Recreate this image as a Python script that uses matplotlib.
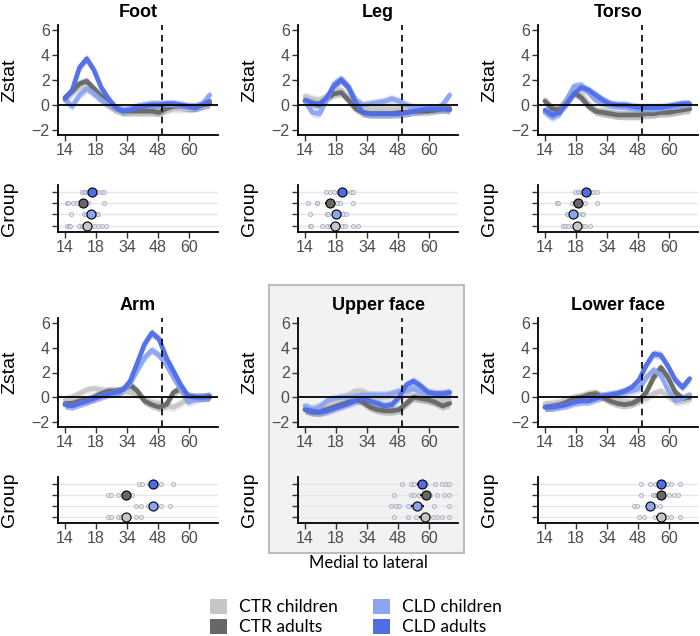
import numpy as np
import matplotlib.pyplot as plt
from matplotlib.patches import Rectangle, Patch

# position along the medial-to-lateral axis (sample index) and tick labels
pos = [0, 3.5, 7, 10.5, 14, 17.5, 21, 24.5, 28, 31.5, 35, 38.5, 42, 45.5, 49, 52.5, 56, 59.5, 63, 66.5, 70]
tick_pos = [0, 15, 30, 45, 60]
tick_labels = ['14', '18', '34', '48', '60']
boundary = 47

groups = ['CTR children', 'CTR adults', 'CLD children', 'CLD adults']
colors = ['#c6c6c6', '#676767', '#8ba5ef', '#4f6de8']
group_rows = [1, 3, 2, 4]

# Zstat profiles, one list per group
foot_ctr_children = [0.5, 0.9, 1.4, 1.5, 1.1, 0.5, 0.0, -0.4, -0.6, -0.6, -0.6, -0.6, -0.6, -0.5, -0.4, -0.3, -0.3, -0.3, -0.2, -0.1, 0.1]
foot_ctr_adults = [0.6, 1.1, 1.7, 1.9, 1.3, 0.7, 0.1, -0.3, -0.5, -0.5, -0.5, -0.5, -0.5, -0.6, -0.3, -0.1, -0.1, -0.2, -0.2, 0.0, 0.1]
foot_cld_children = [0.4, -0.1, 0.8, 1.3, 0.9, 0.4, 0.0, -0.3, -0.4, -0.3, -0.1, 0.0, 0.1, 0.1, 0.0, 0.0, -0.1, -0.2, -0.1, 0.1, 0.8]
foot_cld_adults = [0.5, 1.2, 3.0, 3.7, 2.8, 1.4, 0.5, -0.2, -0.5, -0.4, -0.2, -0.1, 0.0, 0.0, 0.1, 0.1, 0.0, -0.1, -0.2, 0.0, 0.3]

leg_ctr_children = [0.7, 0.5, 0.4, 0.7, 1.1, 1.2, 0.6, -0.1, -0.3, -0.3, -0.3, -0.3, -0.3, -0.3, -0.3, -0.3, -0.3, -0.3, -0.3, -0.2, -0.2]
leg_ctr_adults = [0.3, 0.1, 0.1, 0.5, 0.9, 1.0, 0.4, -0.3, -0.6, -0.7, -0.7, -0.7, -0.7, -0.6, -0.6, -0.5, -0.5, -0.5, -0.4, -0.3, -0.3]
leg_cld_children = [0.3, -0.6, -0.7, 0.4, 1.7, 2.1, 1.5, 0.4, 0.0, 0.1, 0.2, 0.3, 0.5, 0.3, 0.0, -0.2, -0.2, -0.3, -0.3, 0.0, 0.8]
leg_cld_adults = [0.4, 0.2, 0.0, 0.6, 1.5, 2.0, 1.4, 0.2, -0.6, -0.7, -0.7, -0.7, -0.7, -0.7, -0.6, -0.5, -0.4, -0.3, -0.3, -0.3, -0.4]

torso_ctr_children = [0.4, -0.2, -0.3, 0.5, 1.4, 0.9, 0.1, -0.4, -0.6, -0.7, -0.8, -0.9, -0.9, -0.9, -0.8, -0.7, -0.6, -0.6, -0.5, -0.4, -0.4]
torso_ctr_adults = [0.3, -0.3, -0.4, 0.3, 1.0, 0.6, -0.1, -0.5, -0.6, -0.7, -0.8, -0.8, -0.8, -0.8, -0.7, -0.7, -0.6, -0.6, -0.5, -0.4, -0.3]
torso_cld_children = [-0.6, -1.0, -0.7, 0.4, 1.5, 1.6, 1.0, 0.4, 0.1, -0.1, -0.1, -0.2, -0.3, -0.4, -0.4, -0.4, -0.3, -0.2, -0.2, -0.1, 0.0]
torso_cld_adults = [-0.4, -0.8, -0.6, 0.1, 0.9, 1.4, 1.2, 0.8, 0.4, 0.1, 0.0, 0.0, -0.1, -0.2, -0.2, -0.2, -0.2, -0.1, 0.0, 0.1, 0.1]

arm_ctr_children = [-0.2, 0.0, 0.3, 0.6, 0.7, 0.6, 0.5, 0.5, 0.5, 0.4, 0.2, -0.2, -0.4, -0.5, -0.7, -0.8, -0.5, -0.1, 0.0, 0.0, 0.0]
arm_ctr_adults = [-0.5, -0.5, -0.3, -0.2, 0.0, 0.3, 0.5, 0.5, 0.6, 1.0, 0.5, -0.3, -0.6, -0.8, -0.6, 0.4, 0.7, 0.1, 0.0, 0.0, 0.0]
arm_cld_children = [-0.6, -0.7, -0.5, -0.3, -0.1, 0.1, 0.3, 0.4, 0.6, 1.1, 2.2, 3.2, 3.8, 3.4, 2.6, 1.6, 0.6, -0.4, -0.2, 0.0, 0.1]
arm_cld_adults = [-0.6, -0.7, -0.5, -0.3, -0.1, 0.1, 0.3, 0.4, 0.6, 1.3, 2.8, 4.3, 5.2, 4.7, 3.2, 2.1, 1.0, 0.1, 0.0, 0.0, 0.1]

upper_ctr_children = [-0.8, -0.9, -0.7, -0.5, -0.3, 0.0, 0.2, 0.5, 0.5, 0.1, 0.0, 0.0, 0.1, 0.3, 0.2, 0.0, -0.1, -0.2, -0.3, -0.3, -0.3]
upper_ctr_adults = [-1.0, -1.2, -1.2, -1.0, -0.8, -0.6, -0.4, -0.1, -0.4, -0.8, -1.0, -1.1, -1.1, -1.0, -0.5, 0.0, -0.1, -0.2, -0.4, -0.7, -0.5]
upper_cld_children = [-0.7, -1.0, -0.8, -0.3, -0.1, 0.0, 0.0, 0.1, 0.2, 0.2, 0.2, 0.2, 0.3, 0.5, 0.5, 0.7, 0.4, 0.2, 0.1, 0.1, 0.1]
upper_cld_adults = [-1.0, -1.1, -1.2, -1.1, -0.9, -0.7, -0.5, -0.3, -0.1, -0.3, -0.5, -0.7, -0.6, 0.0, 1.0, 1.3, 0.9, 0.4, 0.3, 0.3, 0.4]

lower_ctr_children = [-0.5, -0.5, -0.4, -0.2, 0.0, 0.1, 0.3, 0.3, 0.1, -0.1, -0.2, -0.3, -0.4, -0.3, -0.1, 0.3, 0.5, 0.1, -0.3, -0.3, -0.2]
lower_ctr_adults = [-0.8, -0.7, -0.6, -0.4, -0.1, 0.0, 0.2, 0.3, 0.0, -0.3, -0.5, -0.6, -0.5, -0.2, 0.4, 1.6, 2.4, 1.6, 0.4, -0.1, 0.0]
lower_cld_children = [-0.8, -0.8, -0.7, -0.6, -0.4, -0.3, -0.3, -0.1, 0.1, 0.2, 0.3, 0.4, 0.5, 0.7, 1.6, 2.2, 1.8, 0.6, -0.3, -0.1, 0.2]
lower_cld_adults = [-0.8, -0.8, -0.7, -0.6, -0.4, -0.3, -0.3, -0.1, 0.1, 0.2, 0.3, 0.5, 0.8, 1.4, 2.6, 3.5, 3.4, 2.5, 1.4, 0.8, 1.5]

# peak locations per participant (group order as above) and group means
foot_peaks = [[1, 2, 2.5, 7, 8, 9, 10, 11, 12, 14, 16, 18, 20],
              [1, 1.5, 4, 6, 8, 9, 10, 11, 19],
              [3, 9, 10, 11, 12, 13, 15, 15.5, 16],
              [8, 9, 10, 11, 12, 12, 13, 14, 15, 16, 18, 19]]
foot_means = [10.5, 8.9, 12.4, 12.9]
leg_peaks = [[2.4, 2.7, 8, 10.5, 12, 16, 17.7, 19.4, 23.4, 25.8],
             [1.6, 5.6, 6, 10.5, 13.7, 15.3, 17, 23],
             [2.4, 10.5, 11.3, 15.3, 17, 18.5, 20],
             [10, 12, 14, 16, 17, 18, 19, 20, 22, 23]]
leg_means = [14.5, 12.1, 15.0, 17.7]
torso_peaks = [[8.9, 9.7, 11.3, 13, 14.5, 16, 17.7, 19.4, 21.8],
               [6, 6.5, 13, 14.5, 17, 19.4, 25],
               [10.5, 11.3, 13, 14.5, 16, 17.7, 18.5],
               [14.5, 16, 17, 18, 19, 20, 21, 22, 23, 25]]
torso_means = [15.3, 16.1, 13.4, 19.8]
arm_peaks = [[21, 22.2, 25.5, 27, 31, 34.4, 36.7],
             [21, 22, 25.5, 27.8, 31, 32.2],
             [34.4, 36.7, 40, 41.8, 44.4, 46.2, 50.7],
             [35.6, 37.3, 40.4, 41.8, 44.4, 46.2, 52.2]]
arm_means = [29.6, 29.3, 42.7, 42.7]
upper_peaks = [[43.2, 49.9, 53.9, 56.1, 59.5, 61.7, 63.9, 66.1, 69.5],
               [43.2, 51.2, 52.8, 55, 57.2, 60.6, 63.9, 67.3, 69.5],
               [41.6, 43.9, 45.4, 49.9, 51.7, 56.1, 62.4, 69.5],
               [46.8, 51.2, 52.8, 55, 58.4, 62.8, 66.1, 68.4, 69.5]]
upper_means = [57.9, 58.4, 54.3, 56.6]
lower_peaks = [[45.4, 47.7, 53.2, 56.6, 58.8, 61.1, 65.5],
               [46.5, 52.1, 53.2, 54.4, 60, 62.2, 64.4],
               [43.2, 44.3, 49.9, 53.2, 55.5],
               [46.5, 51, 53.2, 55.5, 58.8, 61.1, 65.5]]
lower_means = [56.2, 56.2, 51.0, 56.2]

panels = [
    ('Foot', [foot_ctr_children, foot_ctr_adults, foot_cld_children, foot_cld_adults], foot_peaks, foot_means),
    ('Leg', [leg_ctr_children, leg_ctr_adults, leg_cld_children, leg_cld_adults], leg_peaks, leg_means),
    ('Torso', [torso_ctr_children, torso_ctr_adults, torso_cld_children, torso_cld_adults], torso_peaks, torso_means),
    ('Arm', [arm_ctr_children, arm_ctr_adults, arm_cld_children, arm_cld_adults], arm_peaks, arm_means),
    ('Upper face', [upper_ctr_children, upper_ctr_adults, upper_cld_children, upper_cld_adults], upper_peaks, upper_means),
    ('Lower face', [lower_ctr_children, lower_ctr_adults, lower_cld_children, lower_cld_adults], lower_peaks, lower_means),
]

plt.rcParams['font.family'] = ['Liberation Sans', 'DejaVu Sans']
W, H = 700, 636
fig = plt.figure(figsize=(7, 6.36), dpi=100)

# highlight box around the upper face panel
fig.patches.append(Rectangle((269 / W, 1 - 553 / H), 195 / W, 268 / H, transform=fig.transFigure,
                             facecolor='#f2f2f2', edgecolor='#bdbdbd', lw=1.5, zorder=-10))

col_left = [58, 298, 538]
row_main = [(25, 135), (318, 427)]
row_group = [(185, 232), (477, 523)]
xlim = (-3.4, 74)


def style_axis(ax):
    ax.set_facecolor('none')
    for s in ['top', 'right']:
        ax.spines[s].set_visible(False)
    for s in ['left', 'bottom']:
        ax.spines[s].set_linewidth(1.3)
        ax.spines[s].set_color('black')
    ax.tick_params(length=4, width=1, color='#333333', labelsize=11.5, labelcolor='#4d4d4d', pad=2)
    ax.set_xlim(*xlim)
    ax.set_xticks(tick_pos)
    ax.set_xticklabels(tick_labels)


for i, (name, curves, peaks, means) in enumerate(panels):
    r, c = divmod(i, 3)
    left = col_left[c] / W
    t, b = row_main[r]
    ax = fig.add_axes([left, 1 - b / H, 160 / W, (b - t) / H])
    style_axis(ax)
    x = np.array(pos)
    for k, ys in enumerate(curves):
        ys = np.array(ys)
        ax.fill_between(x, ys - 0.35, ys + 0.35, color=colors[k], alpha=0.35, lw=0)
        ax.plot(x, ys, color=colors[k], lw=3.4, solid_capstyle='round', solid_joinstyle='round', alpha=0.95)
    ax.axhline(0, color='black', lw=1.3, zorder=5)
    ax.axvline(boundary, color='black', lw=1.2, ls=(0, (4, 3)), zorder=5)
    ax.set_ylim(-2.4, 6.4)
    ax.set_yticks([-2, 0, 2, 4, 6])
    ax.set_title(name, fontsize=13, fontweight='bold', pad=6)
    ax.set_ylabel('Zstat', fontsize=14)
    ax.yaxis.set_label_coords(-0.25, 0.5)

    t, b = row_group[r]
    gax = fig.add_axes([left, 1 - b / H, 160 / W, (b - t) / H])
    style_axis(gax)
    gax.set_ylim(0.45, 4.6)
    gax.set_yticks(group_rows)
    gax.set_yticklabels([])
    for row in group_rows:
        gax.axhline(row, color='#e6e6e6', lw=1, zorder=0)
    for k in range(4):
        px = np.array(peaks[k])
        gax.scatter(px, np.full(len(px), group_rows[k]), s=9, facecolor='#e0e0e0',
                    edgecolor='#96a0c0', lw=0.6, alpha=0.75, zorder=2)
        sem = px.std() / np.sqrt(len(px))
        gax.errorbar(means[k], group_rows[k], xerr=sem, fmt='o', ms=6.5, mfc=colors[k],
                     mec='black', mew=0.8, ecolor='black', elinewidth=1.2, capsize=0, zorder=4)
    gax.set_ylabel('Group', fontsize=14)
    gax.yaxis.set_label_coords(-0.25, 0.5)

fig.text(368 / W, 1 - 563 / H, 'Medial to lateral', ha='center', va='center',
         fontsize=12, family=['Lato', 'DejaVu Sans'])

handles = [Patch(facecolor=col, edgecolor='none') for col in colors]
fig.legend(handles, groups, loc='center', bbox_to_anchor=(356 / W, 1 - 617 / H), ncol=2,
           frameon=False, prop={'family': ['Lato', 'DejaVu Sans'], 'size': 12.5},
           handlelength=1.0, handleheight=1.0, columnspacing=2.0, labelspacing=0.2, handletextpad=0.7)

fig.savefig('out.png', dpi=100)
